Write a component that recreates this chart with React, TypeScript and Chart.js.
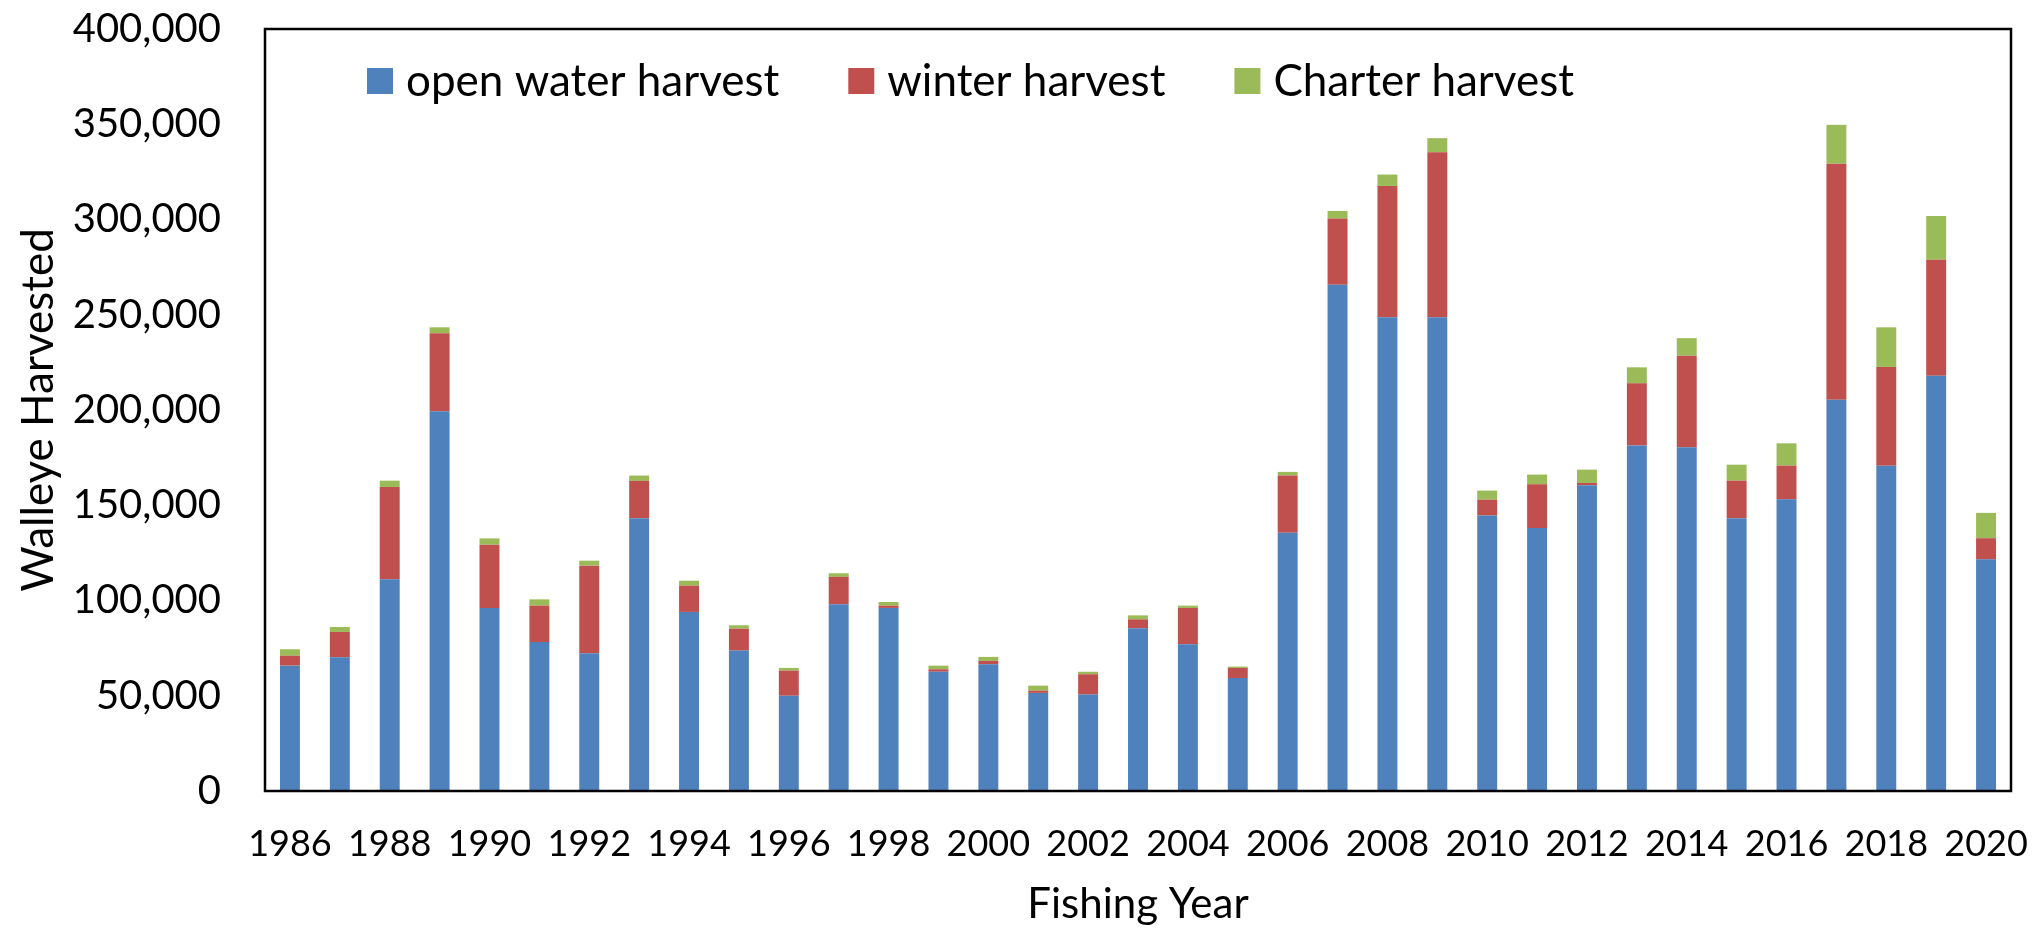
import React, { useEffect, useRef } from "react";
import { Chart, registerables } from "chart.js";

Chart.register(...registerables);

const years = [
  "1986", "1987", "1988", "1989", "1990", "1991", "1992", "1993", "1994", "1995",
  "1996", "1997", "1998", "1999", "2000", "2001", "2002", "2003", "2004", "2005",
  "2006", "2007", "2008", "2009", "2010", "2011", "2012", "2013", "2014", "2015",
  "2016", "2017", "2018", "2019", "2020",
];

const openWater = [
  65800, 70200, 111100, 199300, 96100, 78200, 72300, 143200, 94000, 73700,
  50000, 98000, 96100, 62600, 66500, 51500, 50600, 85400, 77000, 59300,
  135500, 265800, 248700, 248700, 144600, 138100, 160500, 181300, 180400, 143200,
  153100, 205400, 170800, 218000, 121600,
];

const winter = [
  5200, 13300, 48500, 41000, 33200, 19100, 46000, 19600, 13800, 11500,
  13200, 14400, 1200, 1300, 1800, 1200, 10700, 4700, 19100, 5300,
  30100, 34700, 68900, 86600, 8300, 22900, 1200, 32700, 48100, 19700,
  17700, 123900, 51800, 60900, 11100,
];

const charter = [
  3400, 2600, 3300, 3100, 3300, 3300, 2600, 2800, 2600, 1800,
  1400, 1900, 1900, 1900, 2100, 2600, 1300, 2100, 1200, 700,
  1900, 4000, 6000, 7400, 4800, 5100, 7000, 8400, 9200, 8400,
  11700, 20400, 20800, 23000, 13300,
];

const seriesNames = ["open water harvest", "winter harvest", "Charter harvest"];
const seriesColors = ["#4F81BD", "#C0504D", "#9BBB59"];

const yTicks = [0, 50000, 100000, 150000, 200000, 250000, 300000, 350000, 400000];

const FONT = "Lato, 'Open Sans', sans-serif";

const frameAndLegend = {
  id: "frameAndLegend",
  afterDraw(chart: any) {
    const { ctx, chartArea } = chart;
    ctx.save();
    // plot frame
    ctx.strokeStyle = "#000000";
    ctx.lineWidth = 2.5;
    ctx.strokeRect(chartArea.left, chartArea.top, chartArea.right - chartArea.left, chartArea.bottom - chartArea.top);
    // legend inside plot
    ctx.font = `44px ${FONT}`;
    ctx.textBaseline = "middle";
    ctx.textAlign = "left";
    let x = chartArea.left + 102;
    const yc = chartArea.top + 52;
    const box = 26;
    chart.data.datasets.forEach((ds: any) => {
      ctx.fillStyle = ds.backgroundColor;
      ctx.fillRect(x, yc - box / 2, box, box);
      x += box + 13;
      ctx.fillStyle = "#000000";
      ctx.fillText(ds.label, x, yc + 1);
      x += ctx.measureText(ds.label).width + 69;
    });
    ctx.restore();
  },
};

export default function App() {
  const ref = useRef<HTMLCanvasElement | null>(null);

  useEffect(() => {
    document.body.style.margin = "0";
    if (!ref.current) return;
    const chart = new Chart(ref.current, {
      type: "bar",
      data: {
        labels: years,
        datasets: [
          { label: seriesNames[0], data: openWater, backgroundColor: seriesColors[0] },
          { label: seriesNames[1], data: winter, backgroundColor: seriesColors[1] },
          { label: seriesNames[2], data: charter, backgroundColor: seriesColors[2] },
        ],
      },
      options: {
        responsive: true,
        maintainAspectRatio: false,
        animation: false,
        layout: { padding: { top: 29, right: 22, left: 0, bottom: 0 } },
        datasets: { bar: { categoryPercentage: 1, barPercentage: 0.4 } },
        plugins: {
          legend: { display: false },
          tooltip: { enabled: false },
        },
        scales: {
          x: {
            stacked: true,
            grid: { display: false, drawTicks: false },
            border: { display: false },
            ticks: {
              autoSkip: false,
              maxRotation: 0,
              minRotation: 0,
              padding: 32,
              color: "#000000",
              font: { family: FONT, size: 36 },
              callback: (_v: any, i: number) => (i % 2 === 0 ? years[i] : ""),
            },
            title: {
              display: true,
              text: "Fishing Year",
              color: "#000000",
              font: { family: FONT, size: 42 },
              padding: { top: 0, bottom: 0 },
            },
            afterFit: (scale: any) => {
              scale.height = 139;
              scale.paddingLeft = 0;
              scale.paddingRight = 0;
            },
          },
          y: {
            stacked: true,
            min: 0,
            max: 400000,
            grid: { display: false, drawTicks: false },
            border: { display: false },
            afterBuildTicks: (scale: any) => {
              scale.ticks = yTicks.map((v) => ({ value: v }));
            },
            ticks: {
              padding: 44,
              color: "#000000",
              font: { family: FONT, size: 40 },
              callback: (v: any) => Number(v).toLocaleString("en-US"),
            },
            title: {
              display: true,
              text: "Walleye Harvested",
              color: "#000000",
              font: { family: FONT, size: 44 },
              padding: { top: 12, bottom: 0 },
            },
            afterFit: (scale: any) => {
              scale.width = 265;
              scale.paddingTop = 0;
              scale.paddingBottom = 0;
            },
          },
        },
      },
      plugins: [frameAndLegend],
    });
    return () => chart.destroy();
  }, []);

  return (
    <div style={{ width: 2033, height: 930, position: "relative", background: "#ffffff" }}>
      <canvas ref={ref} />
    </div>
  );
}
